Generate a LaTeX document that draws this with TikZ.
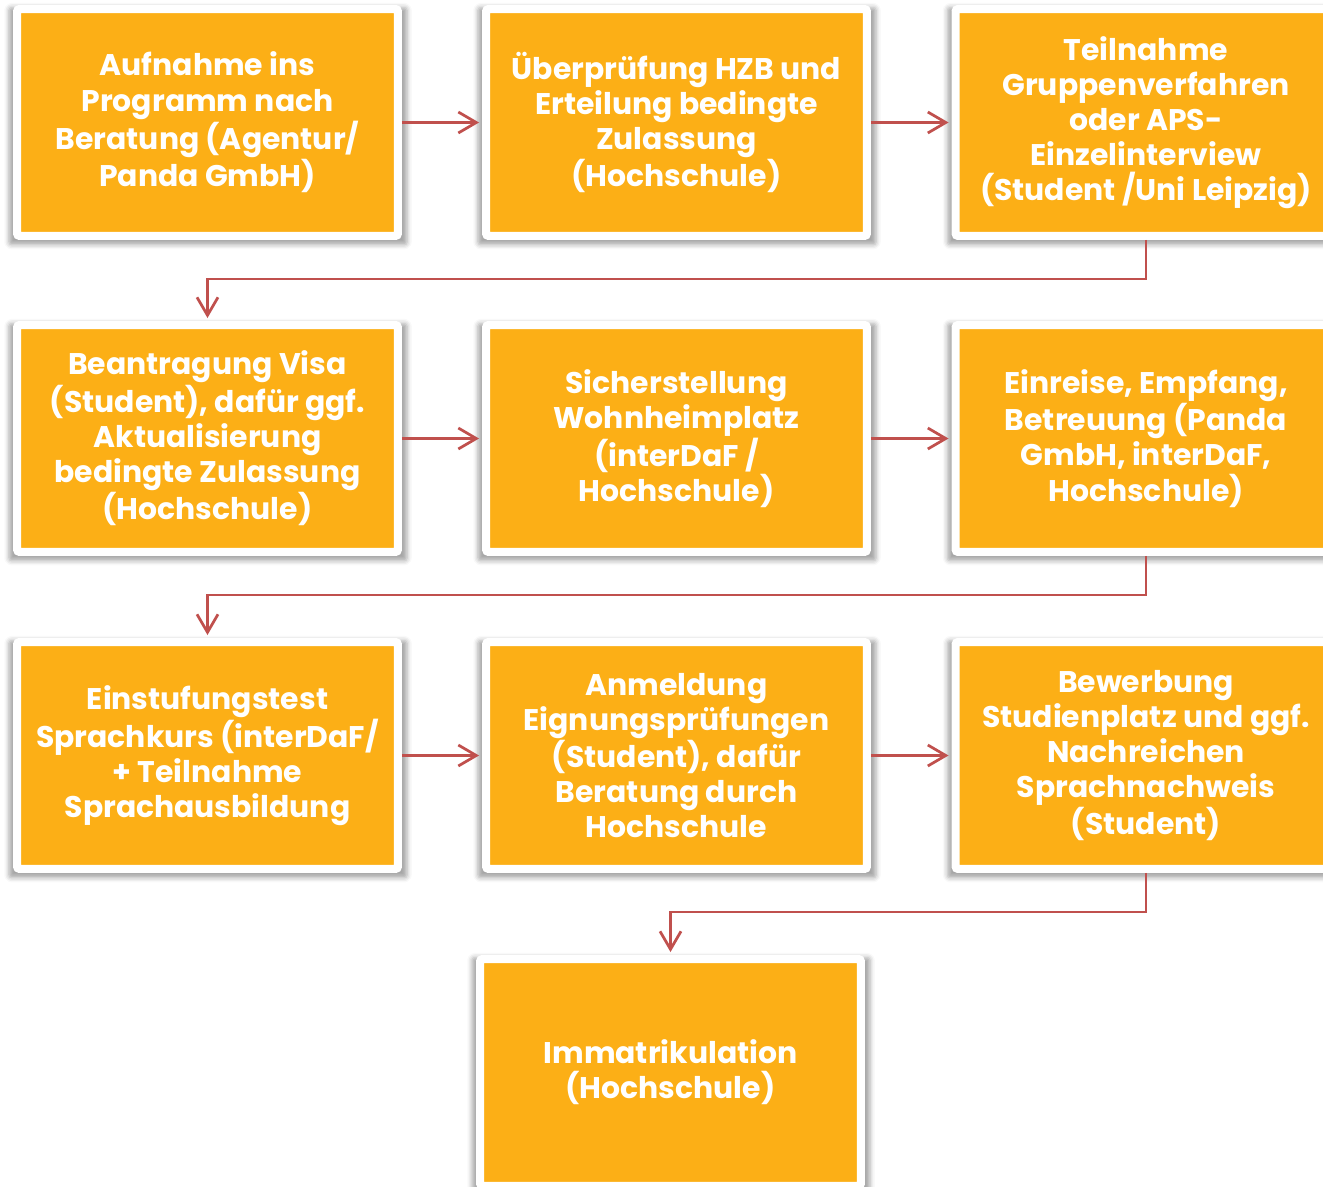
\documentclass[tikz,border=0pt]{standalone}
\usepackage{fontspec}
\setmainfont{Poppins}
\usetikzlibrary{arrows.meta,shadows.blur}
\definecolor{boxorange}{RGB}{252,175,22}
\definecolor{linered}{RGB}{192,80,77}

\begin{document}
\begin{tikzpicture}[x=0.02cm,y=-0.02cm]
        % Define styles
        \tikzset{
            phase/.style={rectangle, rounded corners=0.05cm, fill=boxorange, draw=white, line width=0.16cm,
                minimum width=7.62cm, minimum height=4.54cm, inner sep=0pt, align=center, text=white,
                font=\bfseries\fontsize{17}{20}\selectfont,
                blur shadow={shadow xshift=0.01cm, shadow yshift=-0.07cm, shadow scale=1.045,
                    shadow blur radius=0.09cm, shadow opacity=35}},
            arrow/.style={-{Straight Barb[length=0.36cm,width=0.42cm]}, draw=linered, line width=0.055cm, shorten >=0.06cm}
        }
        \useasboundingbox (0,0) rectangle (1323,1187);

        % Nodes
        \node[phase] (phase_node_1) at (207.5,122.5) {Aufnahme ins\\Programm nach\\Beratung (Agentur/\\Panda GmbH)};
        \node[phase] (phase_node_2) at (676.5,122.5) {Überprüfung HZB und\\Erteilung bedingte\\Zulassung\\(Hochschule)};
        \node[phase] (phase_node_3) at (1146,122.5) {Teilnahme\\Gruppenverfahren\\oder APS-\\Einzelinterview\\(Student /Uni Leipzig)};

        \node[phase] (phase_node_4) at (207.5,438.5) {Beantragung Visa\\(Student), dafür ggf.\\Aktualisierung\\bedingte Zulassung\\(Hochschule)};
        \node[phase] (phase_node_5) at (676.5,438.5) {Sicherstellung\\Wohnheimplatz\\(interDaF /\\Hochschule)};
        \node[phase] (phase_node_6) at (1146,438.5) {Einreise, Empfang,\\Betreuung (Panda\\GmbH, interDaF,\\Hochschule)};

        \node[phase] (phase_node_7) at (207.5,755.5) {Einstufungstest\\Sprachkurs (interDaF/\\+ Teilnahme\\Sprachausbildung};
        \node[phase] (phase_node_8) at (676.5,755.5) {Anmeldung\\Eignungsprüfungen\\(Student), dafür\\Beratung durch\\Hochschule};
        \node[phase] (phase_node_9) at (1146,755.5) {Bewerbung\\Studienplatz und ggf.\\Nachreichen\\Sprachnachweis\\(Student)};

        \node[phase] (phase_node_10) at (670.5,1072.5) {Immatrikulation\\(Hochschule)};

        % Arrows
        \draw[arrow] (phase_node_1) -- (phase_node_2);
        \draw[arrow] (phase_node_2) -- (phase_node_3);
        \draw[arrow] (phase_node_3.south) -- ++(0,39) -| (phase_node_4.north);
        \draw[arrow] (phase_node_4) -- (phase_node_5);
        \draw[arrow] (phase_node_5) -- (phase_node_6);
        \draw[arrow] (phase_node_6.south) -- ++(0,39) -| (phase_node_7.north);
        \draw[arrow] (phase_node_7) -- (phase_node_8);
        \draw[arrow] (phase_node_8) -- (phase_node_9);
        \draw[arrow] (phase_node_9.south) -- ++(0,39) -| (phase_node_10.north);
    \end{tikzpicture}
\end{document}
